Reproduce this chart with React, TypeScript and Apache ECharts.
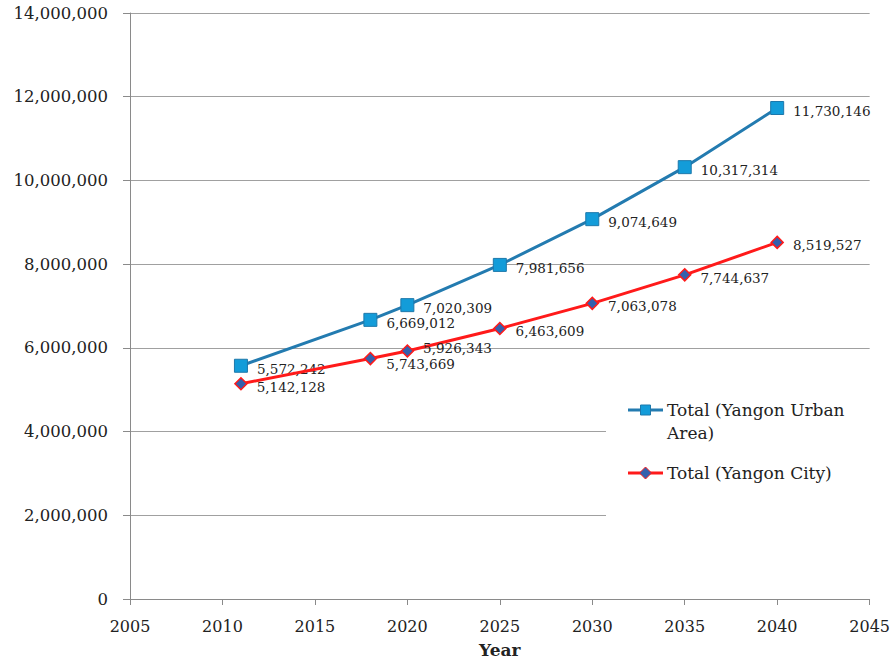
import React, { useEffect, useRef } from "react";
import * as echarts from "echarts";

// Population projections, Yangon
const years = [2011, 2018, 2020, 2025, 2030, 2035, 2040];
const urbanArea = [5572242, 6669012, 7020309, 7981656, 9074649, 10317314, 11730146];
const yangonCity = [5142128, 5743669, 5926343, 6463609, 7063078, 7744637, 8519527];
const seriesNames = ["Total (Yangon Urban Area)", "Total (Yangon City)"];
const legendLines = [["Total (Yangon Urban", "Area)"], ["Total (Yangon City)"]];

const FONT = "'DejaVu Serif', 'Liberation Serif', serif";
const TEXT = "#222222";
const AXIS = "#8a8a8a";
const URBAN_LINE = "#237bb0";
const URBAN_MARK = "#139cd9";
const CITY_LINE = "#ff1a1a";
const CITY_MARK = "#3460ad";

const fmt = (v: number) => v.toLocaleString("en-US");

export default function App() {
  const ref = useRef<HTMLDivElement>(null);

  useEffect(() => {
    if (!ref.current) return;
    const chart = echarts.init(ref.current, null, { renderer: "svg" });

    const labelStyle = {
      show: true,
      position: "right" as const,
      distance: 9,
      offset: [0, 3],
      fontFamily: FONT,
      fontSize: 13.5,
      color: TEXT,
      formatter: (p: any) => fmt(p.value[1]),
    };

    // the two close city labels around 2018–2020 are pulled apart a little
    const cityOffsets: Record<number, number[]> = { 2018: [0, 5], 2020: [0, -3] };
    const cityData = years.map((y, i) =>
      cityOffsets[y]
        ? { value: [y, yangonCity[i]], label: { offset: cityOffsets[y] } }
        : { value: [y, yangonCity[i]] }
    );

    // legend drawn as graphics so the first entry can wrap with its icon on line one
    const lx0 = 628;
    const lx1 = 663;
    const lcx = (lx0 + lx1) / 2;
    const textX = 667;
    const y1 = 410;
    const y2 = 473;

    chart.setOption({
      animation: false,
      backgroundColor: "#ffffff",
      grid: { left: 130, right: 23, top: 13, bottom: 63 },
      xAxis: {
        type: "value",
        min: 2005,
        max: 2045,
        interval: 5,
        name: "Year",
        nameLocation: "middle",
        nameGap: 42,
        nameTextStyle: { fontFamily: FONT, fontWeight: "bold", fontSize: 17, color: TEXT },
        axisLine: { show: true, lineStyle: { color: AXIS, width: 1 } },
        axisTick: { show: true, length: 6, lineStyle: { color: AXIS } },
        axisLabel: {
          margin: 19,
          fontFamily: FONT,
          fontSize: 16,
          color: TEXT,
          formatter: (v: number) => String(v),
        },
        splitLine: { show: false },
      },
      yAxis: {
        type: "value",
        min: 0,
        max: 14000000,
        interval: 2000000,
        axisLine: { show: true, lineStyle: { color: AXIS, width: 1 } },
        axisTick: { show: true, length: 7, lineStyle: { color: AXIS } },
        axisLabel: {
          margin: 22,
          fontFamily: FONT,
          fontSize: 16.5,
          color: TEXT,
          formatter: (v: number) => fmt(v),
        },
        splitLine: { show: true, lineStyle: { color: "#a0a0a0", width: 1 } },
      },
      series: [
        {
          name: seriesNames[0],
          type: "line",
          data: years.map((y, i) => [y, urbanArea[i]]),
          symbol: "rect",
          symbolSize: 13,
          lineStyle: { color: URBAN_LINE, width: 3 },
          itemStyle: { color: URBAN_MARK, borderColor: "#1d78ab", borderWidth: 1 },
          label: labelStyle,
          z: 3,
        },
        {
          name: seriesNames[1],
          type: "line",
          data: cityData,
          symbol: "diamond",
          symbolSize: 12,
          lineStyle: { color: CITY_LINE, width: 3 },
          itemStyle: { color: CITY_MARK, borderColor: CITY_LINE, borderWidth: 1.5 },
          label: labelStyle,
          z: 4,
        },
      ],
      graphic: [
        {
          type: "rect",
          z: 100,
          shape: { x: 606, y: 362, width: 266, height: 160 },
          style: { fill: "#ffffff" },
        },
        {
          type: "line",
          z: 101,
          shape: { x1: lx0, y1: y1, x2: lx1, y2: y1 },
          style: { stroke: URBAN_LINE, lineWidth: 3 },
        },
        {
          type: "rect",
          z: 102,
          shape: { x: lcx - 5, y: y1 - 5, width: 10, height: 10 },
          style: { fill: URBAN_MARK, stroke: "#1d78ab", lineWidth: 1 },
        },
        {
          type: "text",
          z: 101,
          style: {
            text: legendLines[0].join("\n"),
            x: textX,
            y: y1 - 11.5,
            verticalAlign: "top",
            lineHeight: 23,
            font: `17px ${FONT}`,
            fill: TEXT,
          },
        },
        {
          type: "line",
          z: 101,
          shape: { x1: lx0, y1: y2, x2: lx1, y2: y2 },
          style: { stroke: CITY_LINE, lineWidth: 3 },
        },
        {
          type: "polygon",
          z: 102,
          shape: {
            points: [
              [lcx, y2 - 6],
              [lcx + 6, y2],
              [lcx, y2 + 6],
              [lcx - 6, y2],
            ],
          },
          style: { fill: CITY_MARK, stroke: CITY_LINE, lineWidth: 1 },
        },
        {
          type: "text",
          z: 101,
          style: {
            text: legendLines[1].join("\n"),
            x: textX,
            y: y2,
            verticalAlign: "middle",
            font: `17px ${FONT}`,
            fill: TEXT,
          },
        },
      ],
    });

    return () => chart.dispose();
  }, []);

  return (
    <div
      ref={ref}
      style={{ position: "fixed", left: 0, top: 0, width: 893, height: 663 }}
    />
  );
}
